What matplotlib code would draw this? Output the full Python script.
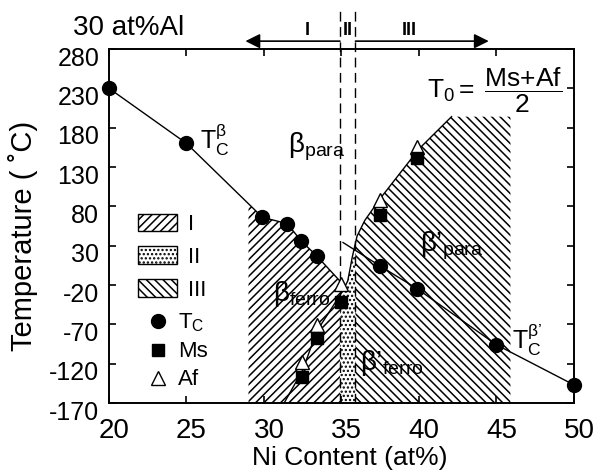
import numpy as np
import matplotlib
matplotlib.use("Agg")
import matplotlib.pyplot as plt
from matplotlib.patches import Patch
from matplotlib.lines import Line2D
from matplotlib.transforms import ScaledTranslation

plt.rcParams["font.family"] = ["Liberation Sans", "DejaVu Sans"]
plt.rcParams["mathtext.fontset"] = "custom"
plt.rcParams["mathtext.rm"] = "Liberation Sans"
plt.rcParams["mathtext.it"] = "Liberation Sans:italic"
plt.rcParams["mathtext.bf"] = "Liberation Sans:bold"
plt.rcParams["hatch.linewidth"] = 1.1
plt.rcParams["axes.unicode_minus"] = False

# ---- measured data (Ni content in at%, temperature in deg C) ----
tc_beta_ni = [20.0, 25.0, 29.9, 31.5, 32.4, 33.4]
tc_beta_t = [230, 160, 66, 58, 36, 17]

tc_betap_ni = [37.5, 39.9, 45.0, 50.0]
tc_betap_t = [4, -25, -96, -147]

ms_ni = [32.45, 33.4, 35.0, 37.5, 39.9]
ms_t = [-137, -87, -41, 69, 141]

af_ni = [32.45, 33.4, 35.0, 37.5, 39.9]
af_t = [-118, -71, -19, 88, 155]

# ---- boundary curves ----
# Curie line of beta, extended to the II border
tc_beta_curve_ni = tc_beta_ni + [34.9]
tc_beta_curve_t = tc_beta_t + [-15]
# Curie line of beta'
tc_betap_curve_ni = [35.1] + tc_betap_ni
tc_betap_curve_t = [34] + tc_betap_t
# T0 = (Ms + Af) / 2 line
t0_ni = [31.3, 32.5, 33.4, 35.0, 35.4, 35.7, 36.0, 36.5, 37.5, 40.0, 42.1]
t0_t = [-170, -128, -79, -30, -15, 16, 42, 62, 90, 153, 194]

# composition ranges I / II / III
region_edges = [29.0, 34.9, 35.9, 45.9]
region_top = 194

x_ticks = [20, 25, 30, 35, 40, 45, 50]
y_ticks = [-170, -120, -70, -20, 30, 80, 130, 180, 230, 280]
x_lim = (20, 50)
y_lim = (-170, 280)

fig = plt.figure(figsize=(5.97, 4.70), dpi=100)
ax = fig.add_axes([0.18258, 0.14255, 0.77889, 0.75319])
ax.set_xlim(*x_lim)
ax.set_ylim(*y_lim)

y0 = y_lim[0]

# Region I: below the beta Curie line
xs = np.linspace(region_edges[0], region_edges[1], 200)
ax.fill_between(xs, y0, np.interp(xs, tc_beta_curve_ni, tc_beta_curve_t),
                facecolor="none", edgecolor="black", hatch="////", linewidth=0, zorder=1)
# Region II: narrow band below T0
xs = np.linspace(region_edges[1], region_edges[2], 50)
ax.fill_between(xs, y0, np.interp(xs, t0_ni, t0_t),
                facecolor="none", edgecolor="black", hatch="....", linewidth=0, zorder=1)
# Region III: below T0 on the Ni-rich side
ys = np.linspace(y0, region_top, 300)
left = np.maximum(region_edges[2], np.interp(ys, t0_t, t0_ni))
ax.fill_betweenx(ys, left, region_edges[3],
                 facecolor="none", edgecolor="black", hatch="\\\\\\\\", linewidth=0, zorder=1)

# curves
ax.plot(tc_beta_curve_ni, tc_beta_curve_t, color="black", lw=1.0, zorder=3)
ax.plot(tc_betap_curve_ni, tc_betap_curve_t, color="black", lw=1.0, zorder=3)
ax.plot(t0_ni, t0_t, color="black", lw=1.0, zorder=3)

# range borders, running up past the frame
top_y = 332
for xb in region_edges[1:3]:
    ax.plot([xb, xb], [y0, top_y], color="black", lw=1.0, ls="--",
            dashes=(7, 4), clip_on=False, zorder=4)

# markers
ax.plot(tc_beta_ni + tc_betap_ni, tc_beta_t + tc_betap_t, "o", color="black",
        ms=10, zorder=6, clip_on=False)
ax.plot(af_ni, af_t, "^", mfc="white", mec="black", mew=1.0, ms=10, zorder=5)
ax.plot(ms_ni, ms_t, "s", color="black", ms=9, zorder=6)

# arrows for the composition ranges above the frame
arrow_y = 290
ax.annotate("", xy=(28.8, arrow_y), xytext=(region_edges[1], arrow_y),
            arrowprops=dict(arrowstyle="-|>", color="black", lw=1.2,
                            mutation_scale=22, shrinkA=0, shrinkB=0),
            annotation_clip=False)
ax.annotate("", xy=(44.5, arrow_y), xytext=(region_edges[2], arrow_y),
            arrowprops=dict(arrowstyle="-|>", color="black", lw=1.2,
                            mutation_scale=22, shrinkA=0, shrinkB=0),
            annotation_clip=False)
lab_y = 303
for xc, s in [(32.8, "I"), (35.4, "II"), (39.4, "III")]:
    ax.text(xc, lab_y, s, ha="center", va="center", fontsize=13,
            fontweight="bold", clip_on=False)

# phase labels
P = "\u2019"
ax.text(25.85, 165, r"$\mathrm{T}_{\mathrm{C}}^{\mathrm{β}}$", fontsize=18, ha="left", va="center")
ax.text(31.55, 155, r"$\mathrm{β}_{\mathrm{para}}$", fontsize=20, ha="left", va="center")
ax.text(30.55, -31, r"$\mathrm{β}_{\mathrm{ferro}}$", fontsize=20, ha="left", va="center")
ax.text(40.05, 30, r"$\mathrm{β" + P + r"}_{\mathrm{para}}$", fontsize=20, ha="left", va="center")
ax.text(36.2, -119, r"$\mathrm{β" + P + r"}_{\mathrm{ferro}}$", fontsize=20, ha="left", va="center")
ax.text(46.0, -90, r"$\mathrm{T}_{\mathrm{C}}^{\mathrm{β" + P + r"}}$", fontsize=18, ha="left", va="center")
ax.text(40.5, 228, r"$\mathrm{T}_{\mathrm{0}}\mathrm{=}\;\dfrac{\mathrm{Ms{+}Af}}{\mathrm{2}}$",
        fontsize=19, ha="left", va="center")

# legends
range_handles = [
    Patch(facecolor="white", edgecolor="black", hatch="////", label="I"),
    Patch(facecolor="white", edgecolor="black", hatch="....", label="II"),
    Patch(facecolor="white", edgecolor="black", hatch="\\\\\\\\", label="III"),
]
leg1 = ax.legend(handles=range_handles, loc="upper left", bbox_to_anchor=(0.0624, 0.535),
                 frameon=False, fontsize=16, handlelength=1.75, handleheight=0.85,
                 handletextpad=0.5, labelspacing=0.5, borderpad=0, borderaxespad=0)
ax.add_artist(leg1)
mark_handles = [
    Line2D([], [], marker="o", ls="none", color="black", ms=10, label=r"$\mathrm{T}_{\mathrm{C}}$"),
    Line2D([], [], marker="s", ls="none", color="black", ms=9, label="Ms"),
    Line2D([], [], marker="^", ls="none", mfc="white", mec="black", ms=10, label="Af"),
]
ax.legend(handles=mark_handles, loc="upper left", bbox_to_anchor=(0.0817, 0.258),
          frameon=False, fontsize=16, handlelength=1.0, handletextpad=0.4,
          labelspacing=0.32, borderpad=0, borderaxespad=0)

# axes styling
ax.set_xticks(x_ticks)
ax.set_yticks(y_ticks)
ax.tick_params(direction="in", top=True, right=True, length=5, width=1.2)
ax.tick_params(axis="x", labelsize=20, pad=11)
ax.tick_params(axis="y", labelsize=18, pad=7)
for sp in ax.spines.values():
    sp.set_linewidth(1.4)
for lab in ax.get_xticklabels():
    lab.set_transform(lab.get_transform() + ScaledTranslation(0.05, 0, fig.dpi_scale_trans))
for lab in ax.get_yticklabels():
    lab.set_transform(lab.get_transform() + ScaledTranslation(0, -0.07, fig.dpi_scale_trans))

ax.set_xlabel("Ni Content (at%)", fontsize=19, va="center")
ax.xaxis.set_label_coords(0.518, -0.155)
ax.set_ylabel("Temperature ( ˚C)", fontsize=21, va="center")
ax.yaxis.set_label_coords(-0.185, 0.472)

fig.text(73 / 597, 1 - 28 / 470, "30 at%Al", ha="left", va="center", fontsize=20)

fig.savefig("out.png", dpi=100)
